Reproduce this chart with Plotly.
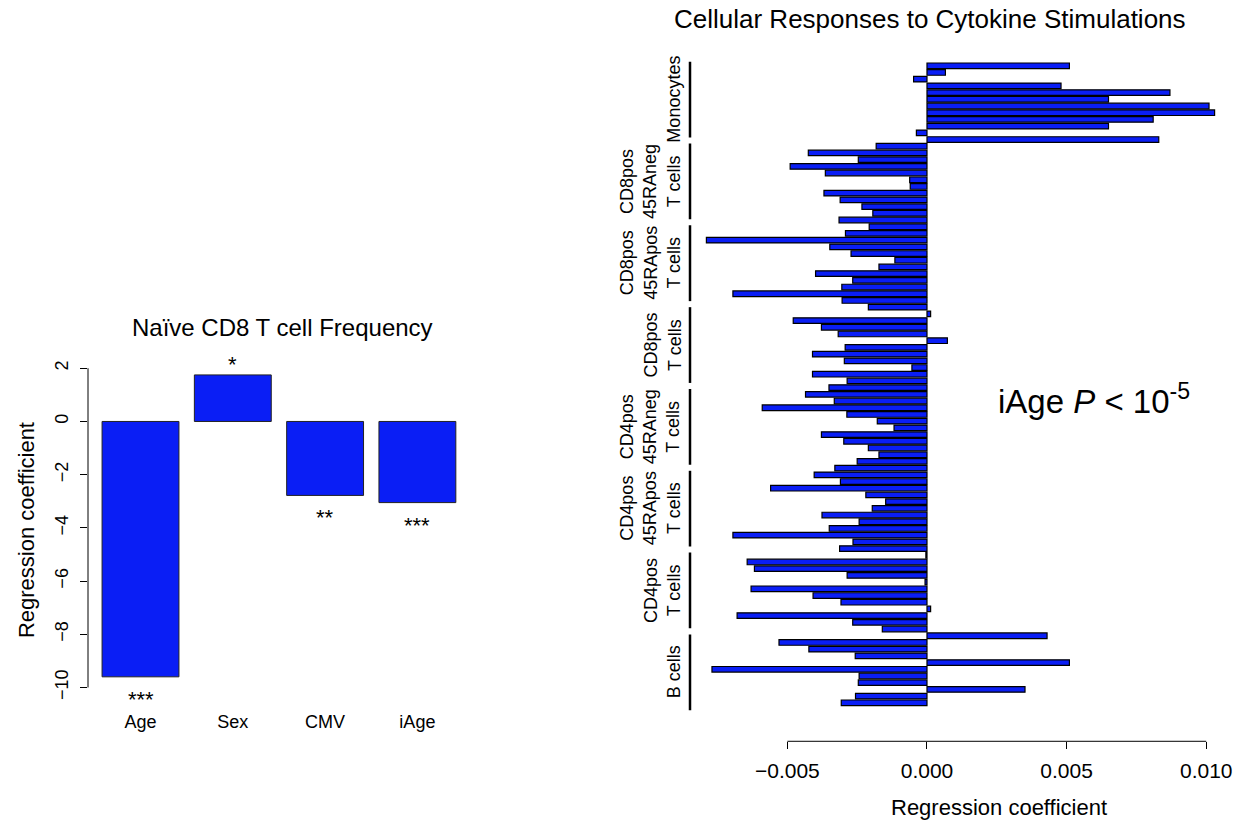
import plotly.graph_objects as go

# ---------------- data ----------------
left_categories = ["Age", "Sex", "CMV", "iAge"]
left_values = [-9.6, 1.75, -2.78, -3.05]
left_signif = ["***", "*", "**", "***"]
left_ticks = [-10, -8, -6, -4, -2, 0, 2]

group_labels = [
    "Monocytes",
    "CD8pos<br>45RAneg<br>T cells",
    "CD8pos<br>45RApos<br>T cells",
    "CD8pos<br>T cells",
    "CD4pos<br>45RAneg<br>T cells",
    "CD4pos<br>45RApos<br>T cells",
    "CD4pos<br>T cells",
    "B cells",
]
monocytes = [0.0051, 0.00066, -0.00048, 0.0048, 0.0087, 0.0065, 0.0101, 0.0103, 0.0081, 0.0065, -0.00038, 0.0083]
cd8_45raneg = [-0.00182, -0.00425, -0.00246, -0.0049, -0.00364, -0.00062, -0.0006, -0.00369, -0.00311, -0.00233, -0.00194, -0.00315]
cd8_45rapos = [-0.00207, -0.00292, -0.0079, -0.00348, -0.00272, -0.00115, -0.00172, -0.00399, -0.00266, -0.00305, -0.00695, -0.00304]
cd8_t = [-0.0021, 0.00013, -0.00479, -0.00378, -0.00318, 0.00073, -0.00293, -0.0041, -0.00296, -0.00054, -0.0041, -0.00286]
cd4_45raneg = [-0.00351, -0.00435, -0.00332, -0.0059, -0.00287, -0.00178, -0.00118, -0.00378, -0.00298, -0.0021, -0.00172, -0.0025]
cd4_45rapos = [-0.0033, -0.00404, -0.0031, -0.0056, -0.00219, -0.00148, -0.00196, -0.00376, -0.00243, -0.0035, -0.00695, -0.00265]
cd4_t = [-0.00313, -0.00004, -0.00644, -0.00618, -0.00286, -0.00007, -0.0063, -0.00408, -0.00308, 0.00013, -0.0068, -0.00266]
b_cells = [-0.0016, 0.0043, -0.0053, -0.00423, -0.00257, 0.0051, -0.0077, -0.00243, -0.00246, 0.00351, -0.00256, -0.00307]
right_groups = [monocytes, cd8_45raneg, cd8_45rapos, cd8_t, cd4_45raneg, cd4_45rapos, cd4_t, b_cells]
right_ticks = [-0.005, 0.0, 0.005, 0.010]
right_ticktext = ["\u22120.005", "0.000", "0.005", "0.010"]

# ---------------- layout helpers ----------------
W, H = 1242, 824
FONT = "Liberation Sans, Arial, Helvetica, sans-serif"
BLUE = "#0a1ef5"


def px(x):
    return x / W


def py(y):
    return 1 - y / H


right_values = [v for g in right_groups for v in g]
right_index = list(range(len(right_values)))

fig = go.Figure()

# left bar chart
fig.add_trace(go.Bar(
    x=list(range(len(left_categories))), y=left_values,
    marker=dict(color=BLUE, line=dict(color="#222222", width=1)),
    width=0.833, xaxis="x", yaxis="y", showlegend=False, hoverinfo="skip",
))

# right bar chart
fig.add_trace(go.Bar(
    x=right_values, y=right_index, orientation="h",
    marker=dict(color=BLUE, line=dict(color="black", width=1.2)),
    width=0.83, xaxis="x2", yaxis="y2", showlegend=False, hoverinfo="skip",
))

annotations = []
shapes = []

# left significance stars
for i, (v, s) in enumerate(zip(left_values, left_signif)):
    if v < 0:
        annotations.append(dict(x=i, y=v, xref="x", yref="y", text=s, showarrow=False,
                                yanchor="top", yshift=-8, font=dict(size=22, family=FONT, color="black")))
    else:
        annotations.append(dict(x=i, y=v, xref="x", yref="y", text=s, showarrow=False,
                                yanchor="bottom", yshift=-4, font=dict(size=22, family=FONT, color="black")))

# left axis line
shapes.append(dict(type="line", xref="paper", yref="y", x0=px(88), x1=px(88),
                   y0=min(left_ticks), y1=max(left_ticks), line=dict(color="black", width=1)))

# right axis line (bottom)
shapes.append(dict(type="line", xref="x2", yref="paper", x0=min(right_ticks), x1=max(right_ticks),
                   y0=py(744), y1=py(744), line=dict(color="black", width=1)))

# right group segments and labels
for k, lab in enumerate(group_labels):
    start = 12.2 * k - 0.6
    end = start + 11.3
    shapes.append(dict(type="line", xref="paper", yref="y2", x0=px(690), x1=px(690),
                       y0=start, y1=end, line=dict(color="black", width=2.5)))
    annotations.append(dict(x=px(686), y=(start + end) / 2, xref="paper", yref="y2", text=lab,
                            showarrow=False, textangle=-90, xanchor="right", yanchor="middle",
                            font=dict(size=18, family=FONT, color="black")))

# titles and axis titles
annotations += [
    dict(x=px(282), y=py(329), xref="paper", yref="paper", text="Na\u00efve CD8 T cell Frequency",
         showarrow=False, xanchor="center", yanchor="middle", font=dict(size=24, family=FONT, color="black")),
    dict(x=px(930), y=py(19), xref="paper", yref="paper", text="Cellular Responses to Cytokine Stimulations",
         showarrow=False, xanchor="center", yanchor="middle", font=dict(size=26, family=FONT, color="black")),
    dict(x=px(26), y=py(532), xref="paper", yref="paper", text="Regression coefficient", textangle=-90,
         showarrow=False, xanchor="center", yanchor="middle", font=dict(size=22, family=FONT, color="black")),
    dict(x=px(999), y=py(810), xref="paper", yref="paper", text="Regression coefficient",
         showarrow=False, xanchor="center", yanchor="middle", font=dict(size=22, family=FONT, color="black")),
    dict(x=px(1094), y=py(400), xref="paper", yref="paper",
         text="iAge <i>P</i> &lt; 10<sup>-5</sup>",
         showarrow=False, xanchor="center", yanchor="middle", font=dict(size=33, family=FONT, color="black")),
]

fig.update_layout(
    width=W, height=H,
    margin=dict(l=0, r=0, t=0, b=0),
    paper_bgcolor="white", plot_bgcolor="white",
    bargap=0.17,
    font=dict(family=FONT, color="black"),
    xaxis=dict(domain=[px(88), px(470)], range=[-0.569, 3.570], tickvals=list(range(len(left_categories))),
               ticktext=left_categories, showgrid=False, zeroline=False, showline=False, ticks="",
               tickfont=dict(size=18, family=FONT, color="black"), anchor="y", ticklabelstandoff=12),
    yaxis=dict(domain=[py(700), py(355)], range=[-10.375, 2.547], tickvals=left_ticks,
               ticktext=[str(t).replace("-", "\u2212") for t in left_ticks], tickangle=-90,
               showgrid=False, zeroline=False, showline=False, ticks="outside", ticklen=7,
               tickcolor="black", tickfont=dict(size=18, family=FONT, color="black"), anchor="x",
               ticklabelstandoff=5),
    xaxis2=dict(domain=[px(686), px(1235)], range=[-0.00863, 0.01103], tickvals=right_ticks,
                ticktext=right_ticktext, showgrid=False, zeroline=False, showline=False,
                ticks="outside", ticklen=7, tickcolor="black", anchor="free", position=py(744),
                tickfont=dict(size=21, family=FONT, color="black"), ticklabelstandoff=4),
    yaxis2=dict(domain=[py(716), py(56)], range=[96.58, -1.486], showgrid=False, zeroline=False,
                showline=False, showticklabels=False, ticks="", anchor="x2"),
    annotations=annotations,
    shapes=shapes,
)

fig.write_html("out.html")
